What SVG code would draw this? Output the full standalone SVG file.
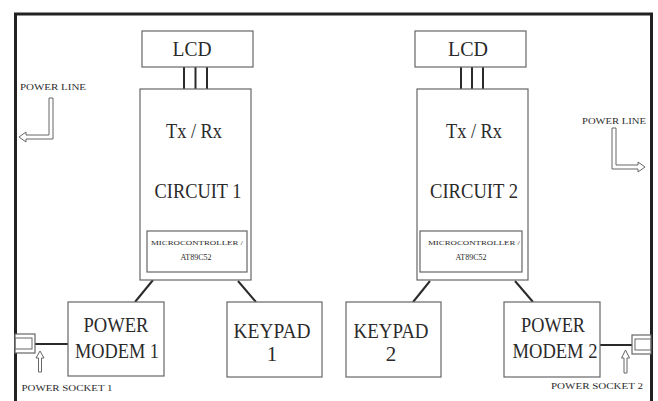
<svg xmlns="http://www.w3.org/2000/svg" width="658" height="401" viewBox="0 0 658 401">
<style>
.box{fill:#fff;stroke:#666;stroke-width:1.2}
.t{font-family:"Liberation Serif","Times New Roman",serif;fill:#2a2a2a;text-anchor:middle}
.big{font-size:21px}
.sm{font-size:8px}
.xs{font-size:6px}
.conn{stroke:#2a2a2a;stroke-width:2;fill:none}
.hollow{fill:#fff;stroke:#666;stroke-width:1}
</style>
<rect width="658" height="401" fill="#fff"/>
<g id="frame">
<path d="M15.5,401 V14 H651.5 V401" fill="none" stroke="#222" stroke-width="3"/>
</g>
<g id="connectors">
<line class="conn" x1="184" y1="67" x2="184" y2="89"/>
<line class="conn" x1="195.5" y1="67" x2="195.5" y2="89"/>
<line class="conn" x1="207" y1="67" x2="207" y2="89"/>
<line class="conn" x1="461" y1="67" x2="461" y2="89"/>
<line class="conn" x1="472" y1="67" x2="472" y2="89"/>
<line class="conn" x1="483" y1="67" x2="483" y2="89"/>
<line class="conn" x1="153" y1="280" x2="135" y2="302"/>
<line class="conn" x1="238" y1="281" x2="256" y2="302"/>
<line class="conn" x1="430" y1="281" x2="413" y2="302"/>
<line class="conn" x1="515" y1="281" x2="533" y2="302"/>
<line class="conn" x1="35" y1="344" x2="68" y2="344"/>
<line class="conn" x1="600" y1="345" x2="632" y2="345"/>
</g>
<g id="lcd1">
<rect class="box" x="142" y="31" width="111" height="36"/>
<text class="t big" x="192" y="56" textLength="39" lengthAdjust="spacingAndGlyphs">LCD</text>
</g>
<g id="lcd2">
<rect class="box" x="415" y="31" width="111" height="36"/>
<text class="t big" x="468" y="56" textLength="40" lengthAdjust="spacingAndGlyphs">LCD</text>
</g>
<g id="circuit1">
<rect class="box" x="140" y="89" width="111" height="191"/>
<text class="t big" x="194" y="138" textLength="56" lengthAdjust="spacingAndGlyphs">Tx / Rx</text>
<text class="t big" x="198" y="198" textLength="87" lengthAdjust="spacingAndGlyphs">CIRCUIT 1</text>
</g>
<g id="micro1">
<rect class="box" x="147" y="231" width="100" height="41"/>
<text class="t xs" x="197" y="245" textLength="92" lengthAdjust="spacingAndGlyphs">MICROCONTROLLER /</text>
<text class="t sm" x="196" y="260">AT89C52</text>
</g>
<g id="circuit2">
<rect class="box" x="417" y="89" width="111" height="191"/>
<text class="t big" x="474" y="138" textLength="56" lengthAdjust="spacingAndGlyphs">Tx / Rx</text>
<text class="t big" x="474" y="198" textLength="88" lengthAdjust="spacingAndGlyphs">CIRCUIT 2</text>
</g>
<g id="micro2">
<rect class="box" x="420" y="231" width="102" height="41"/>
<text class="t xs" x="474" y="245" textLength="92" lengthAdjust="spacingAndGlyphs">MICROCONTROLLER /</text>
<text class="t sm" x="471" y="260">AT89C52</text>
</g>
<g id="modem1">
<rect class="box" x="68" y="302" width="96" height="74"/>
<text class="t big" x="116" y="332" textLength="65" lengthAdjust="spacingAndGlyphs">POWER</text>
<text class="t big" x="117" y="358" textLength="84" lengthAdjust="spacingAndGlyphs">MODEM 1</text>
</g>
<g id="keypad1">
<rect class="box" x="227" y="302" width="95" height="75"/>
<text class="t big" x="272" y="338" textLength="77" lengthAdjust="spacingAndGlyphs">KEYPAD</text>
<text class="t big" x="272" y="361">1</text>
</g>
<g id="keypad2">
<rect class="box" x="346" y="302" width="95" height="75"/>
<text class="t big" x="391" y="338" textLength="75" lengthAdjust="spacingAndGlyphs">KEYPAD</text>
<text class="t big" x="391" y="361">2</text>
</g>
<g id="modem2">
<rect class="box" x="504" y="302" width="96" height="75"/>
<text class="t big" x="553" y="332" textLength="64" lengthAdjust="spacingAndGlyphs">POWER</text>
<text class="t big" x="555" y="358" textLength="85" lengthAdjust="spacingAndGlyphs">MODEM 2</text>
</g>
<g id="powerline1">
<text class="t sm" x="53" y="90" textLength="66" lengthAdjust="spacingAndGlyphs">POWER LINE</text>
<polygon class="hollow" points="49,98 53,98 53,139 26,139 26,142 19,137 26,132 26,135 49,135"/>
</g>
<g id="powerline2">
<text class="t sm" x="614" y="124" textLength="64" lengthAdjust="spacingAndGlyphs">POWER LINE</text>
<polygon class="hollow" points="612,128 616,128 616,165 638,165 638,162 645,167 638,172 638,169 612,169"/>
</g>
<g id="socket1">
<rect class="box" x="15" y="334" width="20" height="19"/>
<rect fill="none" stroke="#666" stroke-width="1" x="15" y="338" width="17" height="11"/>
<polygon class="hollow" points="38.5,372 38.5,358 36,358 40,351 44,358 41.5,358 41.5,372"/>
<text class="t sm" x="67" y="391" textLength="91" lengthAdjust="spacingAndGlyphs">POWER SOCKET 1</text>
</g>
<g id="socket2">
<rect class="box" x="632" y="335" width="19" height="19"/>
<rect fill="none" stroke="#666" stroke-width="1" x="635" y="339" width="16" height="11"/>
<polygon class="hollow" points="624,373 624,358 621.5,358 625.5,350 629.5,358 627,358 627,373"/>
<text class="t sm" x="597" y="389" textLength="92" lengthAdjust="spacingAndGlyphs">POWER SOCKET 2</text>
</g>
</svg>
